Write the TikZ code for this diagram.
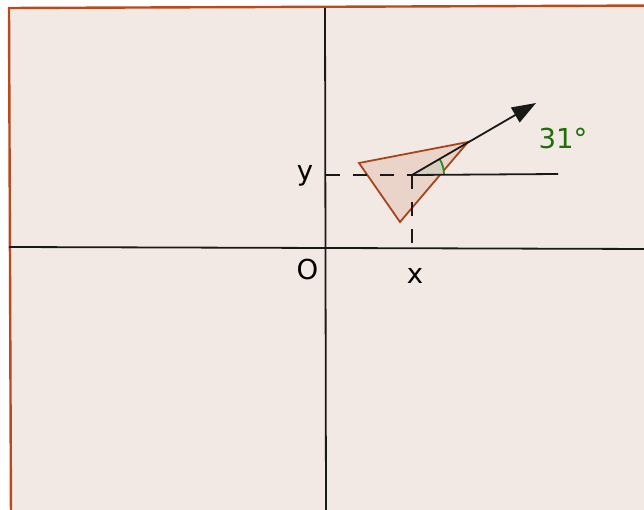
\documentclass[tikz,border=0pt]{standalone}
\usepackage{fontspec}
\setmainfont{DejaVu Sans}
\usetikzlibrary{arrows.meta,calc}
\definecolor{bgfill}{RGB}{243,233,228}
\definecolor{bgborder}{RGB}{184,74,28}
\definecolor{trifill}{RGB}{234,212,202}
\definecolor{tristroke}{RGB}{168,68,26}
\definecolor{anglefill}{RGB}{214,208,192}
\definecolor{anglegreen}{RGB}{40,140,40}
\definecolor{labelgreen}{RGB}{30,110,10}
\definecolor{axiscol}{RGB}{25,25,25}
\tikzset{
  axisline/.style={draw=axiscol, line width=1.8pt},
  dashline/.style={draw=axiscol, line width=1.8pt, dash pattern=on 14pt off 13pt},
  lbl/.style={inner sep=0pt, anchor=base, font=\fontsize{27.5}{30}\selectfont},
}
\begin{document}
\begin{tikzpicture}[x=1pt,y=-1pt]
\useasboundingbox (0,0) rectangle (644,510);
\clip (0,0) rectangle (644,510);
% background
\filldraw[fill=bgfill, draw=bgborder, line width=2.4pt] (9,8) -- (660,5.5) -- (660,520) -- (11,520) -- cycle;
% coordinates
\coordinate (L) at (9,247);
\coordinate (R) at (650,249);
\coordinate (T) at (325,8);
\coordinate (B) at (326,515);
\coordinate (P) at (412,175);
\coordinate (Py) at (325.5,175);
\coordinate (Px) at (412,248);
\coordinate (H) at (558,174);
\coordinate (A) at (536,103);
\coordinate (V1) at (359,163);
\coordinate (V2) at (468,142);
\coordinate (V3) at (400,222);
% axes
\draw[axisline] (L) -- (R);
\draw[axisline] (T) -- (B);
% triangle
\filldraw[fill=trifill, draw=tristroke, line width=1.8pt, line join=miter] (V1) -- (V2) -- (V3) -- cycle;
% dashed projections
\draw[dashline] (Py) -- (P);
\draw[dashline] (P) -- (Px);
% angle sector
\fill[anglefill] (P) -- ++(32,0) arc[start angle=0, end angle=-30.3, radius=32] -- cycle;
\draw[anglegreen, line width=1.8pt] ($(P)+(32,0)$) arc[start angle=0, end angle=-30.3, radius=32];
% horizontal reference
\draw[axisline] (P) -- (H);
% arrow
\draw[axiscol, line width=1.8pt, -{Triangle[length=24pt,width=17pt]}] (P) -- (A);
% labels
\node[lbl] (ly) at (305,181) {y};
\node[lbl] (lO) at (307.5,279.5) {O};
\node[lbl] (lx) at (415,283) {x};
\node[lbl, text=labelgreen] (lang) at (563,149) {31°};
\end{tikzpicture}
\end{document}
